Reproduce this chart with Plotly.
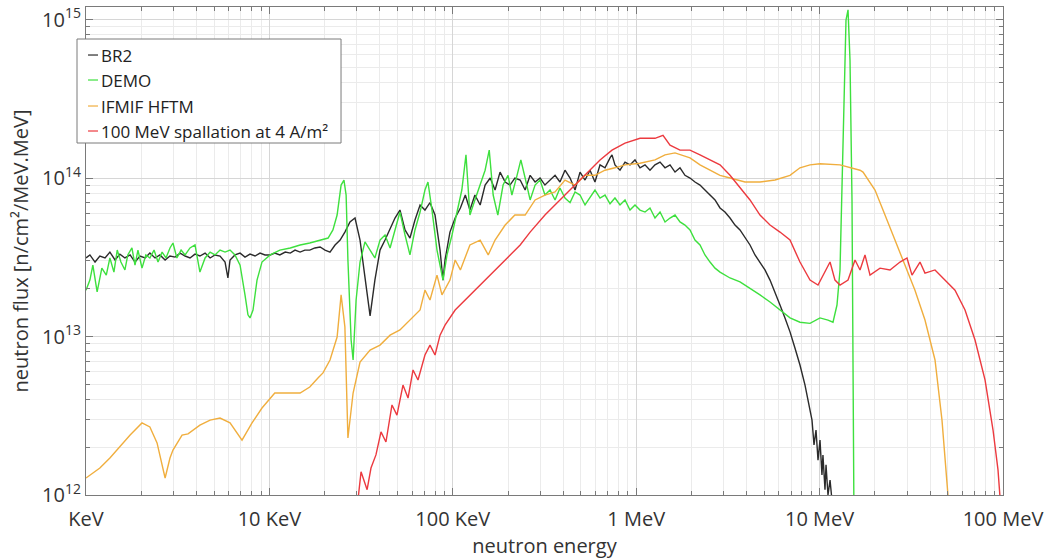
import plotly.graph_objects as go

# ---------------- data (energy in keV, flux in units of 1e13 n/cm2/MeV) ----------------
br2_energy = [1.00, 1.05, 1.12, 1.19, 1.27, 1.35, 1.44, 1.53, 1.63, 1.74, 1.85, 1.97, 2.10, 2.23, 2.38,
              2.53, 2.70, 2.87, 3.06, 3.26, 3.47, 3.69, 3.93, 4.18, 4.46, 4.75, 5.05, 5.38, 5.73, 5.94,
              6.10, 6.49, 6.92, 7.36, 7.84, 8.35, 8.89, 9.46, 10.1, 10.7, 11.4, 12.2, 13.0, 13.8, 14.7,
              15.6, 16.6, 17.7, 18.9, 20.1, 21.4, 22.8, 24.3, 25.8, 27.5, 29.3, 31.2, 33.2, 35.4, 37.6,
              40.1, 42.7, 45.5, 48.4, 51.5, 54.9, 58.4, 62.2, 66.3, 70.5, 75.1, 80.0, 85.2, 88.4, 90.7,
              96.5, 103, 110, 117, 124, 132, 141, 150, 160, 170, 181, 193, 205, 218, 233,
              248, 264, 281, 299, 318, 339, 361, 384, 409, 436, 464, 494, 526, 560, 596,
              635, 676, 720, 738, 766, 816, 869, 925, 985, 1049, 1117, 1189, 1266, 1349, 1436,
              1529, 1628, 1733, 1845, 1965, 2092, 2228, 2371, 2526, 2690, 2864, 3048, 3247, 3457, 3681,
              3920, 4174, 4444, 4732, 5036, 5366, 5713, 6081, 6476, 6897, 7345, 7816, 8326, 8648, 8867,
              9090, 9322, 9559, 9802, 10050, 10300, 10430, 10700, 10840, 11110, 11400, 11680]
br2_flux13 = [3.13, 3.27, 2.95, 3.22, 3.13, 3.41, 3.04, 3.31, 3.13, 3.27, 2.95, 3.22, 3.13, 3.36, 3.13,
              3.27, 3.04, 3.22, 3.17, 3.36, 3.22, 3.13, 3.31, 3.22, 3.36, 3.13, 3.27, 3.22, 2.95, 2.34,
              3.04, 3.27, 3.36, 3.17, 3.31, 3.22, 3.36, 3.27, 3.27, 3.36, 3.27, 3.41, 3.36, 3.51, 3.41,
              3.51, 3.51, 3.62, 3.67, 3.51, 3.41, 3.78, 4.06, 4.56, 5.28, 5.59, 4.06, 2.27, 1.35, 2.27,
              3.51, 4.06, 4.84, 5.59, 6.28, 4.70, 4.18, 5.43, 6.76, 6.28, 6.99, 5.84, 3.51, 2.27, 3.04,
              4.56, 5.59, 6.47, 7.81, 6.28, 7.81, 6.76, 9.03, 10.0, 8.40, 10.9, 9.44, 9.03, 10.0, 9.71,
              8.40, 10.4, 9.44, 10.0, 9.03, 9.71, 10.4, 9.44, 11.2, 10.0, 8.40, 10.9, 9.71, 11.2, 9.44,
              12.1, 11.6, 13.4, 14.0, 12.1, 11.2, 12.6, 12.1, 13.0, 11.6, 12.1, 11.2, 12.1, 12.6, 11.6,
              12.1, 10.9, 11.6, 10.4, 10.0, 9.44, 9.03, 8.40, 7.81, 7.27, 6.47, 6.10, 5.59, 5.05, 4.70,
              4.18, 3.78, 3.27, 2.95, 2.63, 2.27, 1.91, 1.58, 1.31, 1.07, 0.844, 0.661, 0.494, 0.397, 0.344,
              0.297, 0.207, 0.257, 0.166, 0.222, 0.134, 0.179, 0.108, 0.155, 0.100, 0.124, 0.093]

demo_energy = [1.00, 1.05, 1.09, 1.15, 1.22, 1.29, 1.35, 1.42, 1.48, 1.55, 1.63, 1.69, 1.78, 1.85, 1.92,
               2.02, 2.12, 2.23, 2.35, 2.47, 2.60, 2.73, 2.87, 2.98, 3.13, 3.30, 3.47, 3.69, 3.93, 4.18,
               4.46, 4.75, 5.05, 5.38, 5.73, 6.10, 6.49, 6.92, 7.36, 7.64, 7.84, 8.14, 8.56, 9.11, 10.1,
               11.4, 13.0, 14.7, 16.6, 18.9, 20.9, 22.2, 23.4, 24.6, 25.5, 26.2, 26.8, 27.9, 28.6, 29.7,
               31.2, 33.2, 35.4, 37.6, 40.1, 42.7, 45.5, 48.4, 51.5, 54.9, 58.4, 62.2, 66.3, 70.5, 73.2,
               77.0, 82.0, 88.4, 93.0, 99.0, 105, 112, 118, 124, 132, 141, 150, 158, 166, 176,
               188, 200, 210, 224, 235, 248, 264, 281, 299, 318, 339, 361, 384, 409, 436,
               464, 494, 526, 560, 596, 635, 676, 720, 766, 816, 869, 925, 985, 1049, 1117,
               1189, 1266, 1349, 1436, 1529, 1628, 1733, 1845, 1965, 2092, 2228, 2371, 2526, 2690, 2864,
               3247, 3681, 4174, 4732, 5366, 6081, 6897, 7816, 8867, 10050, 11110, 11830, 12440, 12920, 13420,
               13930, 14290, 14650, 15020, 15210, 15400]
demo_flux13 = [1.96, 2.27, 2.82, 1.91, 2.70, 2.44, 3.13, 2.55, 3.51, 2.95, 2.63, 3.27, 3.62, 2.82, 3.51,
               2.70, 3.27, 3.13, 3.51, 2.95, 3.41, 3.13, 3.62, 3.89, 3.13, 3.51, 3.27, 3.62, 3.78, 2.55,
               3.13, 3.41, 3.27, 3.51, 3.41, 3.51, 3.27, 2.82, 1.83, 1.37, 1.31, 1.47, 2.27, 2.95, 3.27,
               3.51, 3.62, 3.78, 3.89, 4.06, 4.18, 4.70, 5.84, 9.03, 9.71, 7.81, 3.04, 0.950, 0.711, 1.70,
               2.95, 3.95, 3.51, 3.13, 4.06, 4.37, 3.62, 4.70, 6.10, 4.37, 3.27, 4.70, 6.10, 8.40, 9.44,
               6.28, 3.51, 2.27, 3.27, 4.37, 5.84, 8.40, 14.0, 5.84, 7.27, 9.03, 11.2, 15.0, 7.81, 5.84,
               9.03, 10.4, 7.81, 10.4, 13.0, 10.0, 7.27, 9.03, 9.71, 7.81, 8.40, 7.27, 8.65, 7.48, 6.99,
               8.16, 7.81, 6.76, 7.48, 8.40, 7.48, 7.81, 6.88, 7.48, 6.76, 7.27, 6.28, 6.76, 6.28, 6.10,
               6.47, 5.59, 6.10, 5.28, 5.59, 5.84, 5.28, 5.05, 4.70, 4.06, 3.78, 3.27, 2.95, 2.70, 2.55,
               2.34, 2.21, 2.02, 1.83, 1.65, 1.47, 1.31, 1.23, 1.21, 1.31, 1.27, 1.23, 1.58, 2.63, 15.0,
               99.3, 115, 55.5, 7.27, 0.397, 0.069]

ifmif_energy = [1.00, 1.19, 1.35, 1.53, 1.74, 2.02, 2.23, 2.44, 2.60, 2.70, 2.87, 2.98, 3.34, 3.60, 4.18,
                4.75, 5.38, 6.10, 7.09, 8.04, 9.11, 10.1, 10.7, 14.7, 16.6, 18.4, 19.6, 21.4, 23.4, 24.6,
                25.8, 26.8, 28.6, 31.2, 35.4, 40.1, 45.5, 51.5, 58.4, 66.3, 70.5, 75.1, 82.0, 87.3, 96.5,
                103, 110, 124, 141, 156, 170, 193, 218, 248, 281, 318, 361, 409, 464, 526,
                596, 676, 766, 869, 1049, 1266, 1436, 1628, 1965, 2228, 2526, 2864, 3247, 3920, 4732,
                5713, 6897, 7816, 8867, 10050, 12920, 14650, 16610, 17250, 18130, 20050, 22730, 25760, 29220, 33110,
                37550, 42590, 46490, 50120, 51400]
ifmif_flux13 = [0.128, 0.148, 0.171, 0.201, 0.239, 0.285, 0.269, 0.213, 0.155, 0.128, 0.171, 0.192, 0.239, 0.243, 0.276,
                0.297, 0.306, 0.285, 0.222, 0.285, 0.354, 0.409, 0.440, 0.440, 0.480, 0.547, 0.589, 0.711, 0.993, 1.83,
                1.15, 0.229, 0.440, 0.690, 0.822, 0.883, 1.02, 1.10, 1.27, 1.47, 1.96, 1.70, 2.44, 1.83, 2.27,
                3.04, 2.63, 3.78, 4.06, 3.27, 4.06, 5.05, 5.84, 5.84, 7.27, 7.81, 8.16, 9.71, 9.03, 10.4,
                10.4, 11.2, 11.6, 12.1, 12.4, 13.0, 14.0, 14.4, 13.4, 12.1, 11.2, 10.4, 10.0, 9.44, 9.44,
                9.71, 10.4, 11.6, 12.1, 12.3, 12.1, 11.6, 11.2, 10.9, 10.0, 8.40, 5.84, 4.06, 2.82, 1.96,
                1.27, 0.711, 0.297, 0.100, 0.069]

spall_energy = [30.4, 31.6, 34.1, 35.8, 38.1, 40.6, 43.2, 46.6, 49.6, 53.5, 57.0, 60.7, 64.6, 70.5, 75.1,
                80.0, 85.2, 90.7, 103, 117, 132, 160, 193, 233, 264, 318, 384, 464, 560, 635,
                738, 869, 1049, 1266, 1400, 1529, 1733, 1965, 2228, 2526, 2864, 3247, 3681, 4174, 4732,
                5366, 6081, 6897, 7816, 8867, 9802, 10700, 11400, 12130, 12920, 14290, 15600, 16610, 17680, 18830,
                21350, 24210, 27440, 29960, 31900, 35270, 37550, 42590, 48290, 54730, 62080, 70380, 79800, 88230, 93910,
                97500]
spall_flux13 = [0.093, 0.140, 0.108, 0.148, 0.179, 0.250, 0.216, 0.370, 0.319, 0.494, 0.409, 0.615, 0.532, 0.764, 0.883,
                0.764, 1.02, 1.18, 1.47, 1.70, 1.96, 2.44, 3.04, 3.78, 4.56, 5.84, 7.27, 9.03, 11.2, 13.0,
                15.0, 16.6, 17.8, 17.8, 18.6, 16.1, 15.0, 15.0, 14.0, 13.0, 12.1, 10.4, 8.65, 7.27, 5.84,
                5.05, 4.56, 4.06, 2.95, 2.27, 2.11, 2.55, 2.95, 2.27, 2.11, 2.27, 3.04, 2.63, 3.27, 2.44,
                2.70, 2.63, 2.95, 3.13, 2.44, 2.95, 2.51, 2.63, 2.27, 1.96, 1.47, 0.950, 0.532, 0.257, 0.144,
                0.080]

series_names = ["BR2", "DEMO", "IFMIF HFTM", "100 MeV spallation at 4 A/m\u00b2"]
series_colors = ["#2b2b2b", "#3ee03e", "#f0ae3e", "#ec3a3f"]

x_tick_vals = [1, 10, 100, 1000, 10000, 100000]
x_tick_text = ["KeV", "10 KeV", "100 KeV", "1 MeV", "10 MeV", "100 MeV"]
y_tick_vals = [1e12, 1e13, 1e14, 1e15]
y_tick_text = ["10<sup>12</sup>", "10<sup>13</sup>", "10<sup>14</sup>", "10<sup>15</sup>"]

# ---------------- figure ----------------
FONT = "Open Sans"
TXT = "#333333"
AXC = "#7a7a7a"
fig = go.Figure()
all_x = [br2_energy, demo_energy, ifmif_energy, spall_energy]
all_y = [br2_flux13, demo_flux13, ifmif_flux13, spall_flux13]
for name, color, xs, ys in zip(series_names, series_colors, all_x, all_y):
    fig.add_trace(go.Scatter(
        x=xs, y=[v * 1e13 for v in ys], mode="lines", name=name,
        line=dict(color=color, width=1.4), showlegend=False,
    ))

x_minor = [m * d for d in [1, 10, 100, 1000, 10000] for m in range(2, 10)]
y_minor = [m * d for d in [1e12, 1e13, 1e14, 1e15] for m in range(2, 10)]

axis_common = dict(
    showline=True, linecolor=AXC, linewidth=1, mirror="ticks",
    ticks="inside", ticklen=7, tickcolor=AXC,
    showgrid=True, gridcolor="#d6d6d6", gridwidth=1,
    zeroline=False, automargin=False, ticklabeloverflow="allow",
    tickfont=dict(family=FONT, size=20, color=TXT),
)

fig.update_xaxes(
    type="log", range=[0, 5],
    tickmode="array", tickvals=x_tick_vals, ticktext=x_tick_text,
    minor=dict(tickmode="array", tickvals=x_minor, ticks="inside", ticklen=4,
               tickcolor=AXC, showgrid=True, gridcolor="#ebebeb", gridwidth=1),
    title=dict(text="neutron energy", font=dict(family=FONT, size=20, color=TXT), standoff=6),
    ticklabelstandoff=6,
    **axis_common,
)
fig.update_yaxes(
    type="log", range=[12, 15.079],
    tickmode="array", tickvals=y_tick_vals, ticktext=y_tick_text,
    minor=dict(tickmode="array", tickvals=y_minor, ticks="inside", ticklen=4,
               tickcolor=AXC, showgrid=True, gridcolor="#ebebeb", gridwidth=1),
    title=dict(text="neutron flux [n/cm\u00b2/MeV.MeV]", font=dict(family=FONT, size=20, color=TXT), standoff=8),
    **axis_common,
)

# ---------------- legend (drawn MATLAB-style: short line samples) ----------------
leg_x0, leg_x1, leg_y0, leg_y1 = -0.0098, 0.2781, 0.7213, 0.9344
leg_rows = [0.9016, 0.8504, 0.7971, 0.7459]
shapes = [dict(type="rect", xref="paper", yref="paper", x0=leg_x0, x1=leg_x1, y0=leg_y0, y1=leg_y1,
               line=dict(color=AXC, width=1), fillcolor="white", layer="above")]
annotations = []
for name, color, ry in zip(series_names, series_colors, leg_rows):
    shapes.append(dict(type="line", xref="paper", yref="paper", x0=0.0022, x1=0.0131, y0=ry, y1=ry,
                       line=dict(color=color, width=1.2), layer="above"))
    annotations.append(dict(xref="paper", yref="paper", x=0.0142, y=ry, xanchor="left", yanchor="middle",
                            text=name, showarrow=False,
                            font=dict(family=FONT, size=17, color="#222222")))

fig.update_layout(
    width=1046, height=559, autosize=False,
    margin=dict(l=86, r=43, t=7, b=64),
    paper_bgcolor="white", plot_bgcolor="white",
    font=dict(family=FONT, color=TXT),
    showlegend=False,
    shapes=shapes, annotations=annotations,
)

# remove the default page-body margin so the figure sits at the window's top-left corner
fig.write_html("out.html", config={"displayModeBar": False},
               post_script="document.body.style.margin='0';")
